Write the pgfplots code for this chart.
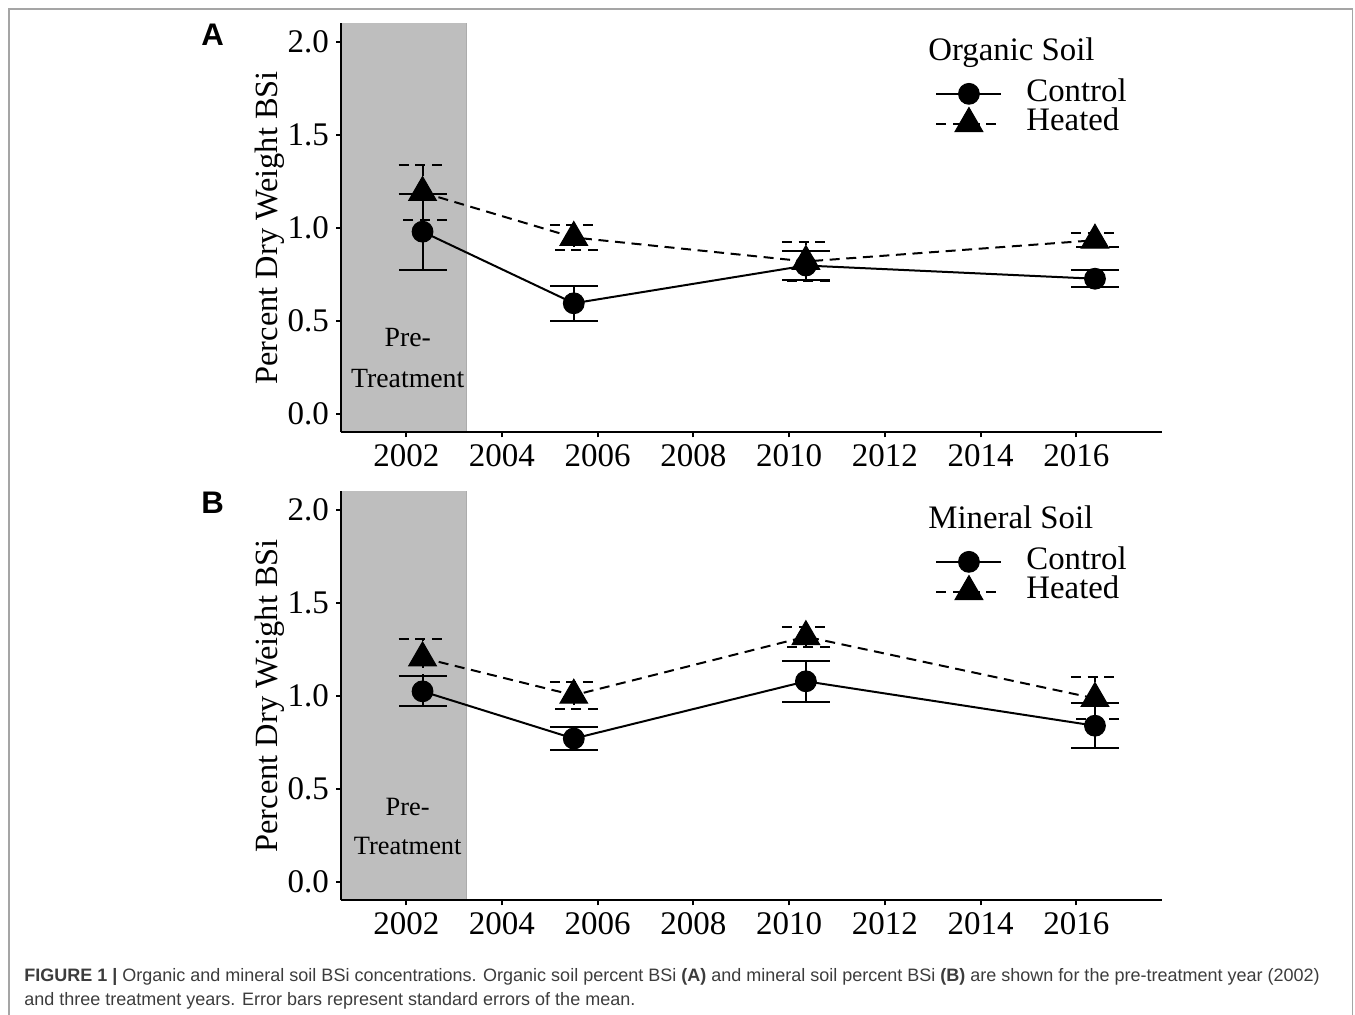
\documentclass[border=0pt]{standalone}
\usepackage{pgfplots}
\pgfplotsset{compat=1.18}
\usepackage{fontspec}
\setmainfont{Liberation Serif}
\newfontfamily\capfont{Liberation Sans}
\definecolor{panelgray}{RGB}{190,190,190}
\definecolor{edgegray}{RGB}{172,172,172}
\definecolor{framegray}{RGB}{165,165,165}
\definecolor{captext}{RGB}{60,60,60}

\pgfplotsset{
  bsi/.style={
    scale only axis, width=410.65pt, height=204.5pt,
    xmin=2000.636, xmax=2017.797, ymin=-0.1, ymax=2.1,
    axis x line=bottom, axis y line=left, axis on top,
    axis line style={-, line width=1pt, black},
    tick align=outside, major tick length=2.5pt,
    every tick/.style={line width=1pt, black},
    xtick={2002,2004,...,2016}, ytick={0,0.5,1,1.5,2},
    x tick label style={/pgf/number format/1000 sep={}},
    y tick label style={/pgf/number format/fixed, /pgf/number format/fixed zerofill, /pgf/number format/precision=1},
    /pgf/number format/assume math mode=true,
    tick label style={font=\fontsize{16.5}{19}\selectfont},
    ylabel={Percent Dry Weight BSi},
    every axis y label/.style={at={(axis description cs:-0.0865,0.5)}, rotate=90, anchor=center, font=\fontsize{16.2}{19}\selectfont},
    clip=false,
    legend cell align=left,
    legend style={draw=none, fill=none, at={(axis description cs:0.7233,0.862)}, anchor=north west,
      inner sep=0pt, row sep=0pt, font=\fontsize{16.4}{19}\selectfont,
      nodes={inner sep=0pt, text height=10.5pt, text depth=3.2pt},
      /tikz/every odd column/.append style={column sep=12pt}},
    legend image code/.code={\draw[mark repeat=2, mark phase=2] plot coordinates {(0pt,0pt) (16.25pt,0pt) (32.5pt,0pt)};},
  },
  ctrl/.style={black, line width=1pt, mark=*, mark size=5.2pt,
    mark options={solid, fill=black, line width=0.5pt},
    error bars/y dir=both, error bars/y explicit, error bars/error mark=|,
    error bars/error bar style={line width=1pt, solid},
    error bars/error mark options={line width=1pt, mark size=12pt, solid}},
  heat/.style={black, line width=1pt, dash pattern=on 5pt off 3.3pt, mark=triangle*, mark size=8pt,
    mark options={solid, fill=black, line width=0.5pt},
    error bars/y dir=both, error bars/y explicit, error bars/error mark=|,
    error bars/error bar style={line width=1pt, dash pattern=on 5pt off 3.3pt},
    error bars/error mark options={line width=1pt, mark size=12pt, dash pattern=on 5pt off 3.3pt}},
}

\begin{document}
\begin{tikzpicture}
\path[use as bounding box] (0pt,0pt) rectangle (677.5pt,-507.5pt);
\draw[framegray, line width=0.75pt] (4.5pt,-530pt) -- (4.5pt,-4.5pt) -- (676.2pt,-4.5pt) -- (676.2pt,-530pt);

% panel A: organic soil
\node[anchor=base west, inner sep=0pt, font=\capfont\bfseries\fontsize{15.6}{18}\selectfont] at (100.5pt,-22.85pt) {A};
\begin{axis}[bsi, at={(170.5pt,-11.65pt)}, anchor=north west]
\fill[panelgray] (axis cs:2000.636,-0.1) rectangle (axis cs:2003.26,2.1);
\draw[edgegray, line width=0.6pt] (axis cs:2003.26,-0.1) -- (axis cs:2003.26,2.1);
\node[anchor=base, inner sep=0pt, font=\fontsize{13.9}{16}\selectfont] at (axis cs:2002.03,0.362) {Pre-};
\node[anchor=base, inner sep=0pt, font=\fontsize{13.9}{16}\selectfont] at (axis cs:2002.03,0.140) {Treatment};
\addplot[ctrl] coordinates {
  (2002.34,0.979) +- (0,0.204)
  (2005.50,0.594) +- (0,0.094)
  (2010.35,0.797) +- (0,0.076)
  (2016.39,0.726) +- (0,0.047)
};
\addlegendentry{Control}
\addplot[heat] coordinates {
  (2002.34,1.190) +- (0,0.146)
  (2005.50,0.948) +- (0,0.066)
  (2010.35,0.819) +- (0,0.107)
  (2016.39,0.933) +- (0,0.038)
};
\addlegendentry{Heated}
\node[anchor=base west, inner sep=0pt, font=\fontsize{16.4}{19}\selectfont] at (axis description cs:0.7147,0.908) {Organic Soil};
\end{axis}

% panel B: mineral soil
\node[anchor=base west, inner sep=0pt, font=\capfont\bfseries\fontsize{15.6}{18}\selectfont] at (100.5pt,-256.85pt) {B};
\begin{axis}[bsi, at={(170.5pt,-245.65pt)}, anchor=north west]
\fill[panelgray] (axis cs:2000.636,-0.1) rectangle (axis cs:2003.26,2.1);
\draw[edgegray, line width=0.6pt] (axis cs:2003.26,-0.1) -- (axis cs:2003.26,2.1);
\node[anchor=base, inner sep=0pt, font=\fontsize{13.2}{15}\selectfont] at (axis cs:2002.03,0.355) {Pre-};
\node[anchor=base, inner sep=0pt, font=\fontsize{13.2}{15}\selectfont] at (axis cs:2002.03,0.148) {Treatment};
\addplot[ctrl] coordinates {
  (2002.34,1.024) +- (0,0.081)
  (2005.50,0.770) +- (0,0.061)
  (2010.35,1.078) +- (0,0.110)
  (2016.39,0.839) +- (0,0.122)
};
\addlegendentry{Control}
\addplot[heat] coordinates {
  (2002.34,1.204) +- (0,0.100)
  (2005.50,1.003) +- (0,0.073)
  (2010.35,1.318) +- (0,0.053)
  (2016.39,0.986) +- (0,0.113)
};
\addlegendentry{Heated}
\node[anchor=base west, inner sep=0pt, font=\fontsize{16.4}{19}\selectfont] at (axis description cs:0.7147,0.908) {Mineral Soil};
\end{axis}

% caption
\node[anchor=base west, inner sep=0pt, text=captext, font=\capfont\fontsize{9}{10}\selectfont] at (12pt,-490.5pt)
  {\textbf{FIGURE 1 |} Organic and mineral soil BSi concentrations. Organic soil percent BSi \textbf{(A)} and mineral soil percent BSi \textbf{(B)} are shown for the pre-treatment year (2002)};
\node[anchor=base west, inner sep=0pt, text=captext, font=\capfont\fontsize{9}{10}\selectfont] at (12pt,-502.5pt)
  {and three treatment years. Error bars represent standard errors of the mean.};
\end{tikzpicture}
\end{document}
